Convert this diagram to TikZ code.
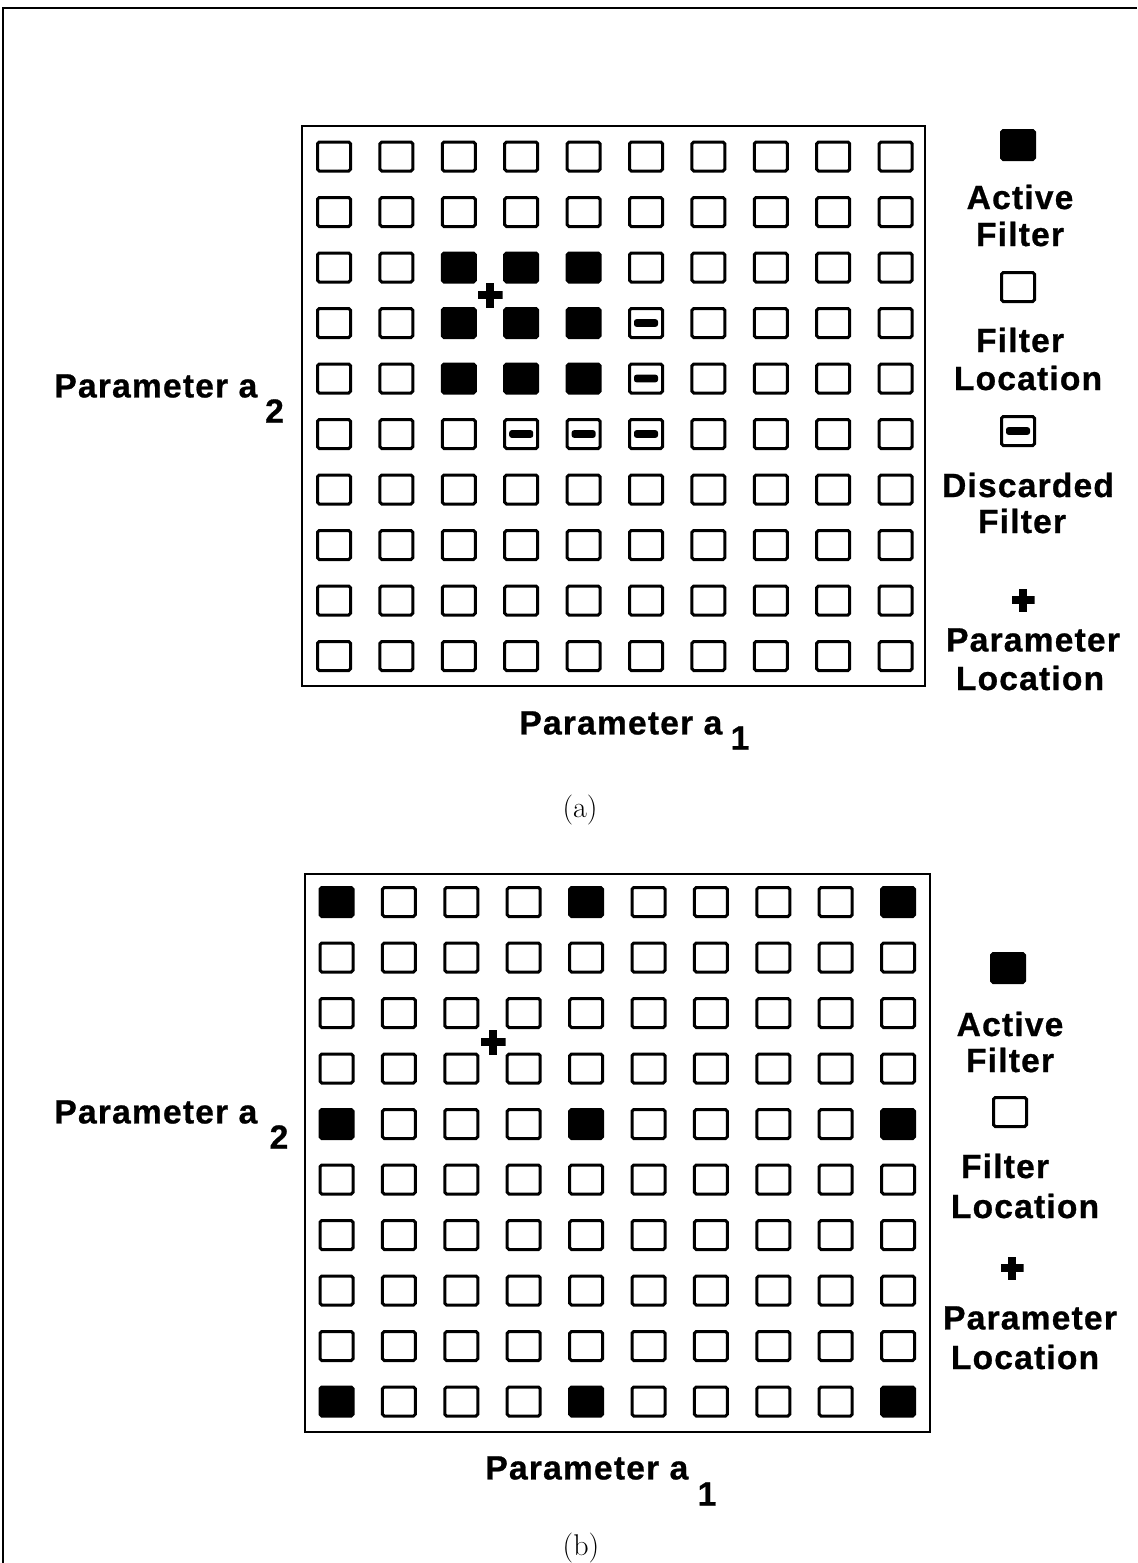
\documentclass[tikz,border=0pt]{standalone}
\usepackage{fontspec}
\newfontfamily\lab{Liberation Sans}[LetterSpace=3.5,FakeBold=0.8]
\begin{document}
\begin{tikzpicture}[x=0.5pt,y=-0.5pt,
  cell/.style={draw,line width=1.5pt,rounded corners=0.9pt,minimum width=16.5pt,minimum height=14.5pt,inner sep=0pt},
  act/.style={fill=black},
  disc/.style={path picture={\fill[rounded corners=1.2pt]
      ([xshift=-6pt,yshift=-1.9pt]path picture bounding box.center) rectangle
      ([xshift=6pt,yshift=1.9pt]path picture bounding box.center);}},
  kind/.code={\pgfkeysifdefined{/tikz/#1/.@cmd}{\pgfkeysalso{/tikz/#1}}{}},
  plusmark/.style={inner sep=0pt,minimum size=#1,
      path picture={\fill ([xshift=-0.5*#1,yshift=-1.9pt]path picture bounding box.center) rectangle ([xshift=0.5*#1,yshift=1.9pt]path picture bounding box.center);
      \fill ([xshift=-1.9pt,yshift=-0.5*#1]path picture bounding box.center) rectangle ([xshift=1.9pt,yshift=0.5*#1]path picture bounding box.center);}},
  panel/.style={draw,line width=1.3pt,inner sep=0pt},
  lbl/.style={font=\lab\bfseries\fontsize{16.8pt}{19pt}\selectfont,inner sep=0pt},
  captext/.style={font=\fontsize{15pt}{17pt}\selectfont,inner sep=0pt},
  A-2-2/.style=act, A-2-3/.style=act, A-2-4/.style=act,
  A-3-2/.style=act, A-3-3/.style=act, A-3-4/.style=act, A-3-5/.style=disc,
  A-4-2/.style=act, A-4-3/.style=act, A-4-4/.style=act, A-4-5/.style=disc,
  A-5-3/.style=disc, A-5-4/.style=disc, A-5-5/.style=disc,
  B-0-0/.style=act, B-0-4/.style=act, B-0-9/.style=act,
  B-4-0/.style=act, B-4-4/.style=act, B-4-9/.style=act,
  B-9-0/.style=act, B-9-4/.style=act, B-9-9/.style=act
]
\useasboundingbox (0,0) rectangle (1137,1563);
% outer frame
\draw[line width=1.3pt] (3,1563) -- (3,8) -- (1137,8);

% ---------- panel (a) ----------
\node[panel,minimum width=311.5pt,minimum height=280pt] (boxA) at (613.5,406) {};
\foreach \r in {0,...,9}
  \foreach \c in {0,...,9}
    \node[cell,kind=A-\r-\c] (a-\r-\c) at ({334+62.4*\c},{156.5+55.5*\r}) {};
\node[plusmark=12.5pt] (pA) at (490,295) {};

\node[lbl,anchor=west] (ya) at (54,386) {Parameter a};
\node[lbl] (ya2) at (274.5,411) {2};
\node[lbl,anchor=west] (xa) at (519,723) {Parameter a};
\node[lbl] (xa1) at (740,738) {1};
\node[captext] (capA) at (580,810) {(a)};

% legend (a)
\node[cell,act] (lA1) at (1018,145) {};
\node[lbl] (lA1a) at (1020,197) {Active};
\node[lbl] (lA1b) at (1020,234) {Filter};
\node[cell] (lA2) at (1018,287) {};
\node[lbl] (lA2a) at (1020,340) {Filter};
\node[lbl] (lA2b) at (1028,378) {Location};
\node[cell,disc] (lA3) at (1018,431) {};
\node[lbl] (lA3a) at (1028,485) {Discarded};
\node[lbl] (lA3b) at (1022,521) {Filter};
\node[plusmark=11.5pt] (lA4) at (1023,600) {};
\node[lbl] (lA4a) at (1033,640) {Parameter};
\node[lbl] (lA4b) at (1030,678) {Location};

% ---------- panel (b) ----------
\node[panel,minimum width=312.5pt,minimum height=279pt] (boxB) at (617.5,1153) {};
\foreach \r in {0,...,9}
  \foreach \c in {0,...,9}
    \node[cell,kind=B-\r-\c] (b-\r-\c) at ({336.5+62.4*\c},{902+55.5*\r}) {};
\node[plusmark=12.5pt] (pB) at (493,1042) {};

\node[lbl,anchor=west] (yb) at (54,1112) {Parameter a};
\node[lbl] (yb2) at (279,1137) {2};
\node[lbl,anchor=west] (xb) at (485,1468) {Parameter a};
\node[lbl] (xb1) at (707,1494) {1};
\node[captext] (capB) at (581,1548) {(b)};

% legend (b)
\node[cell,act] (lB1) at (1008,968) {};
\node[lbl] (lB1a) at (1010,1024) {Active};
\node[lbl] (lB1b) at (1010,1060) {Filter};
\node[cell] (lB2) at (1010,1112) {};
\node[lbl] (lB2a) at (1005,1166) {Filter};
\node[lbl] (lB2b) at (1025,1206) {Location};
\node[plusmark=11.5pt] (lB3) at (1012,1268) {};
\node[lbl] (lB3a) at (1030,1318) {Parameter};
\node[lbl] (lB3b) at (1025,1357) {Location};
\end{tikzpicture}
\end{document}
